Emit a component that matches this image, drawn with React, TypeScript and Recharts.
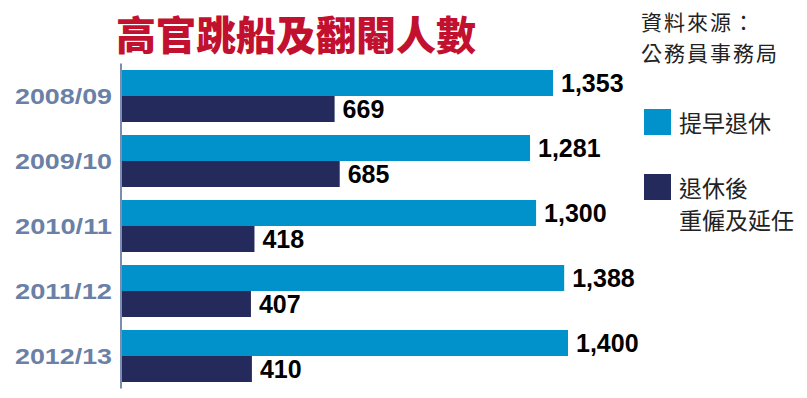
import { BarChart, Bar, XAxis, YAxis, LabelList } from "recharts"

const years = ["2008/09", "2009/10", "2010/11", "2011/12", "2012/13"]
const earlyRetire = [1353, 1281, 1300, 1388, 1400]
const rehired = [669, 685, 418, 407, 410]

const seriesNames = ["提早退休", "退休後\n重僱及延任"]
const seriesColors = ["#0192cb", "#242a5c"]

const title = "高官跳船及翻閹人數"
const source = ["資料來源：", "公務員事務局"]

const data = years.map((y, i) => ({ year: y, early: earlyRetire[i], rehired: rehired[i] }))

const YearTick = (props: any) => {
  const { x, y, payload } = props
  return (
    <text
      x={x}
      y={y}
      dy={8}
      textAnchor="end"
      fill="#6b80a6"
      fontSize={22}
      fontWeight="bold"
      fontFamily="'Liberation Sans', Arial, sans-serif"
      textLength={97}
      lengthAdjust="spacingAndGlyphs"
    >
      {payload.value}
    </text>
  )
}

const fmt = (v: any) => Number(v).toLocaleString("en-US")

export default function App() {
  return (
    <div style={{ position: "absolute", left: 0, top: 0, width: 807, height: 398, background: "#fff", overflow: "hidden" }}>
      <BarChart
        width={807}
        height={398}
        data={data}
        layout="vertical"
        margin={{ top: 63.5, right: 47.4, bottom: 9.5, left: 0 }}
        barCategoryGap="10%"
        barGap={0}
      >
        <XAxis type="number" domain={[0, 2000]} hide />
        <YAxis
          type="category"
          dataKey="year"
          width={121}
          axisLine={{ stroke: "#7a8db0", strokeWidth: 2 }}
          tickLine={false}
          tickMargin={3}
          tick={<YearTick />}
        />
        <Bar dataKey="early" fill={seriesColors[0]} isAnimationActive={false}>
          <LabelList
            dataKey="early"
            position="right"
            offset={8}
            formatter={fmt}
            fill="#000"
            fontSize={25}
            fontWeight="bold"
            fontFamily="'Liberation Sans', Arial, sans-serif"
          />
        </Bar>
        <Bar dataKey="rehired" fill={seriesColors[1]} isAnimationActive={false}>
          <LabelList
            dataKey="rehired"
            position="right"
            offset={8}
            formatter={fmt}
            fill="#000"
            fontSize={25}
            fontWeight="bold"
            fontFamily="'Liberation Sans', Arial, sans-serif"
          />
        </Bar>
      </BarChart>

      {/* title */}
      <div
        style={{
          position: "absolute",
          left: 116,
          top: 13,
          fontSize: 40,
          lineHeight: "40px",
          fontWeight: 900,
          color: "#c2102f",
          fontFamily: "'Noto Sans CJK TC', sans-serif",
          whiteSpace: "nowrap",
        }}
      >
        {title}
      </div>

      {/* source */}
      <div
        style={{
          position: "absolute",
          left: 641,
          top: 6,
          fontSize: 21,
          lineHeight: "31px",
          color: "#222",
          fontFamily: "'Noto Sans CJK TC', sans-serif",
          letterSpacing: 2,
          whiteSpace: "nowrap",
        }}
      >
        {source.map((s) => (
          <div key={s}>{s}</div>
        ))}
      </div>

      {/* legend */}
      <div style={{ position: "absolute", left: 644, top: 109, fontFamily: "'Noto Sans CJK TC', sans-serif" }}>
        {seriesNames.map((name, i) => (
          <div key={name} style={{ display: "flex", alignItems: "flex-start", marginBottom: 36 }}>
            <div style={{ width: 27, height: 26, background: seriesColors[i], flexShrink: 0 }} />
            <div style={{ marginLeft: 8, marginTop: -3, fontSize: 23, lineHeight: "32px", color: "#222", whiteSpace: "pre" }}>
              {name}
            </div>
          </div>
        ))}
      </div>
    </div>
  )
}
